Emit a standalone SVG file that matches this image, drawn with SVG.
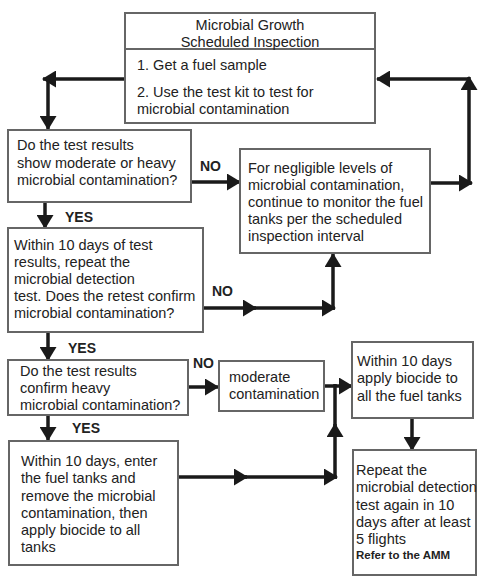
<svg xmlns="http://www.w3.org/2000/svg" width="482" height="580" viewBox="0 0 482 580">
<style>
.box{fill:#fff;stroke:#666;stroke-width:2}
.t{font-family:"Liberation Sans",Arial,sans-serif;font-size:14.5px;fill:#222}
.tc{text-anchor:middle}
.lbl{font-family:"Liberation Sans",Arial,sans-serif;font-size:14px;font-weight:bold;fill:#222}
.small{font-family:"Liberation Sans",Arial,sans-serif;font-size:11.5px;font-weight:bold;fill:#222}
.c{fill:none;stroke:#1a1a1a;stroke-width:3.5;marker-end:url(#ah)}
.cn{fill:none;stroke:#1a1a1a;stroke-width:3.5}
</style>
<defs>
<marker id="ah" markerUnits="userSpaceOnUse" markerWidth="14" markerHeight="17" refX="13" refY="8.5" orient="auto">
<path d="M0,0 L14,8.5 L0,17 z" fill="#1a1a1a"/>
</marker>
</defs>
<rect width="482" height="580" fill="#fff"/>
<g id="connectors">
<path class="c" d="M125,79 H43"/>
<path class="c" d="M48,77 V129"/>
<path class="c" d="M430,183 H472"/>
<path class="c" d="M469,185 V77"/>
<path class="c" d="M469,79 H377"/>
<path class="c" d="M191,182 H240"/>
<path class="c" d="M45,202 V228"/>
<path class="c" d="M203,308 H256"/>
<path class="c" d="M250,308 H335"/>
<path class="c" d="M333,310 V254"/>
<path class="c" d="M48,332 V360"/>
<path class="c" d="M188,387 H218"/>
<path class="c" d="M324,386 H352"/>
<path class="cn" d="M335,430 V384"/>
<path class="c" d="M335,479 V424"/>
<path class="c" d="M48,415 V440"/>
<path class="c" d="M178,477 H247"/>
<path class="c" d="M240,477 H337"/>
<path class="c" d="M412,418 V450"/>
</g>
<g id="labels">
<text class="lbl" x="200" y="171">NO</text>
<text class="lbl" x="65" y="222">YES</text>
<text class="lbl" x="212" y="296">NO</text>
<text class="lbl" x="68" y="353">YES</text>
<text class="lbl" x="193" y="368">NO</text>
<text class="lbl" x="72" y="433">YES</text>
</g>
<g id="start">
<rect class="box" x="125" y="13" width="250" height="110"/>
<line x1="125" y1="49" x2="375" y2="49" stroke="#666" stroke-width="2"/>
<text class="t tc" x="250" y="30">Microbial Growth</text>
<text class="t tc" x="250" y="47">Scheduled Inspection</text>
<text class="t" x="137" y="70">1. Get a fuel sample</text>
<text class="t" x="137" y="97">2. Use the test kit to test for</text>
<text class="t" x="137" y="114">microbial contamination</text>
</g>
<g id="q1">
<rect class="box" x="8" y="130" width="183" height="72"/>
<text class="t" x="17" y="150">Do the test results</text>
<text class="t" x="17" y="168">show moderate or heavy</text>
<text class="t" x="17" y="185">microbial contamination?</text>
</g>
<g id="negligible">
<rect class="box" x="240" y="149" width="190" height="104"/>
<text class="t" x="248" y="173">For negligible levels of</text>
<text class="t" x="248" y="190">microbial contamination,</text>
<text class="t" x="248" y="207">continue to monitor the fuel</text>
<text class="t" x="248" y="224">tanks per the scheduled</text>
<text class="t" x="248" y="241">inspection interval</text>
</g>
<g id="q2">
<rect class="box" x="8" y="228" width="195" height="104"/>
<text class="t" x="14" y="250">Within 10 days of test</text>
<text class="t" x="14" y="267">results, repeat the</text>
<text class="t" x="14" y="284">microbial detection</text>
<text class="t" x="14" y="301">test. Does the retest confirm</text>
<text class="t" x="14" y="318">microbial contamination?</text>
</g>
<g id="q3">
<rect class="box" x="8" y="360" width="180" height="55"/>
<text class="t" x="20" y="376">Do the test results</text>
<text class="t" x="20" y="393">confirm heavy</text>
<text class="t" x="20" y="410">microbial contamination?</text>
</g>
<g id="moderate">
<rect class="box" x="219" y="361" width="105" height="50"/>
<text class="t" x="229" y="382">moderate</text>
<text class="t" x="229" y="399">contamination</text>
</g>
<g id="biocide">
<rect class="box" x="352" y="342" width="121" height="76"/>
<text class="t" x="357" y="366">Within 10 days</text>
<text class="t" x="357" y="383">apply biocide to</text>
<text class="t" x="357" y="401">all the fuel tanks</text>
</g>
<g id="heavy">
<rect class="box" x="9" y="441" width="169" height="124"/>
<text class="t" x="21" y="466">Within 10 days, enter</text>
<text class="t" x="21" y="483">the fuel tanks and</text>
<text class="t" x="21" y="501">remove the microbial</text>
<text class="t" x="21" y="518">contamination, then</text>
<text class="t" x="21" y="535">apply biocide to all</text>
<text class="t" x="21" y="552">tanks</text>
</g>
<g id="repeat">
<rect class="box" x="353" y="450" width="123" height="125"/>
<text class="t" x="356" y="475">Repeat the</text>
<text class="t" x="356" y="492">microbial detection</text>
<text class="t" x="356" y="510">test again in 10</text>
<text class="t" x="356" y="527">days after at least</text>
<text class="t" x="356" y="544">5 flights</text>
<text class="small" x="356" y="559">Refer to the AMM</text>
</g>
</svg>
